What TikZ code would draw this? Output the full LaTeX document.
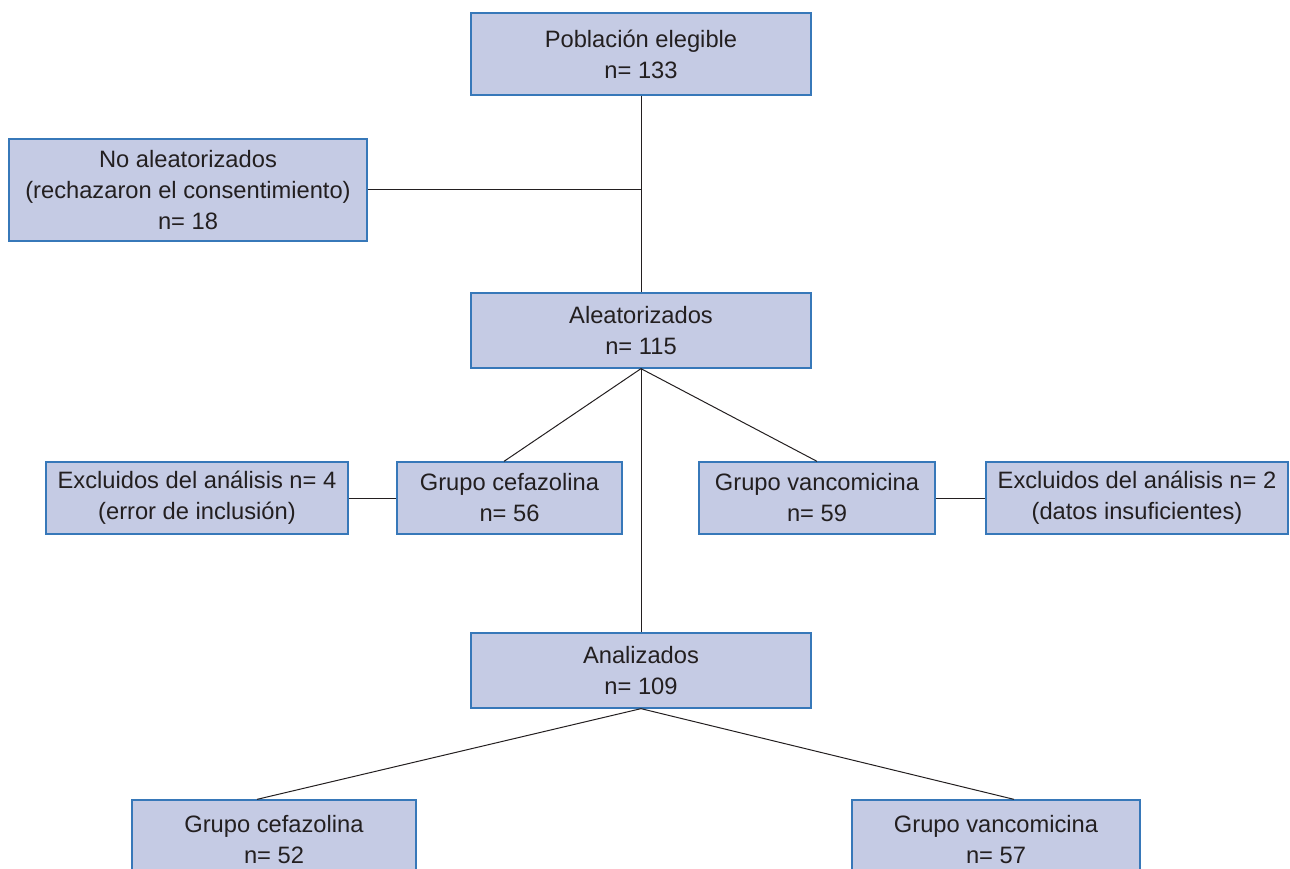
\documentclass[tikz,border=0pt]{standalone}
\usepackage{fontspec}
\setmainfont{Liberation Sans}

\definecolor{boxfill}{RGB}{197,203,228}
\definecolor{boxline}{RGB}{55,120,185}
\definecolor{linkline}{RGB}{35,31,32}

\tikzset{
  flowbox/.style={draw=boxline, fill=boxfill, line width=1.3pt, align=center,
    inner sep=0pt, text=linkline, font=\fontsize{23.7}{31}\selectfont},
  link/.style={draw=linkline, line width=1pt}
}

\begin{document}
\begin{tikzpicture}[x=1pt,y=-1pt]
  \clip (0,0) rectangle (1290,869);

  \node[flowbox, minimum width=340pt, minimum height=82pt] (pob) at (641,54) {Población elegible\\n= 133};
  \node[flowbox, minimum width=358pt, minimum height=102pt] (noal) at (188,190) {No aleatorizados\\(rechazaron el consentimiento)\\n= 18};
  \node[flowbox, minimum width=340pt, minimum height=75pt] (alea) at (641,330.5) {Aleatorizados\\n= 115};

  \node[flowbox, minimum width=302pt, minimum height=72pt] (excefa) at (197,498) {Excluidos del análisis n= 4\\(error de inclusión)};
  \node[flowbox, minimum width=225pt, minimum height=72pt] (cefa) at (509.5,498) {Grupo cefazolina\\n= 56};
  \node[flowbox, minimum width=236pt, minimum height=72pt] (vanco) at (817,498) {Grupo vancomicina\\n= 59};
  \node[flowbox, minimum width=302pt, minimum height=72pt] (exvanco) at (1137,498) {Excluidos del análisis n= 2\\(datos insuficientes)};

  \node[flowbox, minimum width=340pt, minimum height=75pt] (anal) at (641,670.5) {Analizados\\n= 109};

  \node[flowbox, minimum width=284pt, minimum height=80pt] (cefafin) at (274,840) {Grupo cefazolina\\n= 52};
  \node[flowbox, minimum width=288pt, minimum height=80pt] (vancofin) at (996,840) {Grupo vancomicina\\n= 57};

  \draw[link] (pob.south) -- (alea.north);
  \draw[link] (noal.east) -- (noal.east -| pob.south);
  \draw[link] (alea.south) -- ([xshift=-5.5pt]cefa.north);
  \draw[link] (alea.south) -- (vanco.north);
  \draw[link] (alea.south) -- (anal.north);
  \draw[link] (excefa.east) -- (cefa.west);
  \draw[link] (vanco.east) -- (exvanco.west);
  \draw[link] (anal.south) -- ([xshift=-17pt]cefafin.north);
  \draw[link] (anal.south) -- ([xshift=18pt]vancofin.north);
\end{tikzpicture}
\end{document}
